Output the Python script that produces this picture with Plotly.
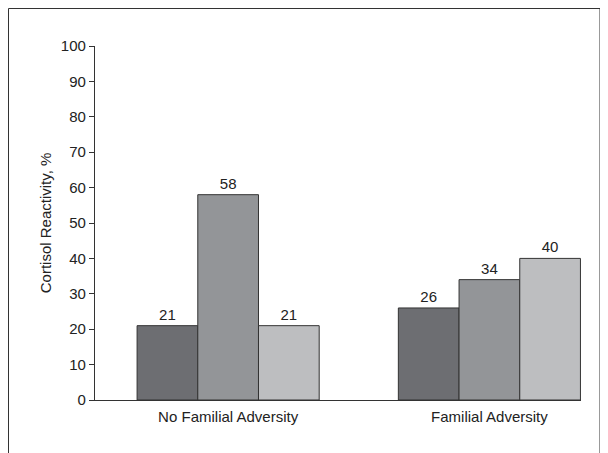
import plotly.graph_objects as go

categories = ["No Familial Adversity", "Familial Adversity"]
series_a = [21, 26]
series_b = [58, 34]
series_c = [21, 40]
colors = ["#6d6e72", "#939598", "#bdbec0"]
y_ticks = [0, 10, 20, 30, 40, 50, 60, 70, 80, 90, 100]

FONT = "Liberation Sans Narrow, Arial Narrow, Liberation Sans, Arial, sans-serif"

fig = go.Figure()
for vals, col in zip([series_a, series_b, series_c], colors):
    fig.add_trace(go.Bar(
        x=categories, y=vals,
        marker=dict(color=col, line=dict(color="#333333", width=1)),
        text=[str(v) for v in vals], textposition="outside",
        textfont=dict(size=15, color="#222222", family=FONT),
        cliponaxis=False, showlegend=False,
    ))

# page body adds an 8px offset; work in figure coordinates
OFF = 8
W, H = 608, 453
L, R, T, B = 95 - OFF, W - (581 - OFF), 46 - OFF, H - (400 - OFF)
pw, ph = W - L - R, H - T - B

def px(x):
    return (x - OFF - L) / pw

def py(y):
    return (H - B - (y - OFF)) / ph

fig.update_layout(
    width=W, height=H,
    margin=dict(l=L, r=R, t=T, b=B),
    paper_bgcolor="white", plot_bgcolor="white",
    barmode="group", bargap=0.303, bargroupgap=0,
    font=dict(family=FONT, size=15, color="#222222"),
    xaxis=dict(
        range=[-0.5096, 1.3506], showline=True, linecolor="#333333", linewidth=1.3,
        ticks="", showgrid=False, tickfont=dict(size=15), ticklabelstandoff=3,
    ),
    yaxis=dict(
        range=[0, 100], tickvals=y_ticks, showline=True, linecolor="#333333",
        linewidth=1.3, ticks="outside", ticklen=5, tickwidth=1, tickcolor="#333333",
        showgrid=False, zeroline=False, tickfont=dict(size=15),
        title=dict(text="Cortisol Reactivity, %", font=dict(size=15), standoff=5),
    ),
    shapes=[
        dict(type="line", xref="paper", yref="paper", x0=px(8.5), x1=px(8.5),
             y0=py(8.5), y1=py(470), line=dict(color="#333333", width=1)),
        dict(type="line", xref="paper", yref="paper", x0=px(8.5), x1=px(600),
             y0=py(8.5), y1=py(8.5), line=dict(color="#333333", width=1)),
        dict(type="line", xref="paper", yref="paper", x0=px(600), x1=px(600),
             y0=py(8.5), y1=py(470), line=dict(color="#333333", width=1)),
    ],
)

fig.write_html("out.html")
